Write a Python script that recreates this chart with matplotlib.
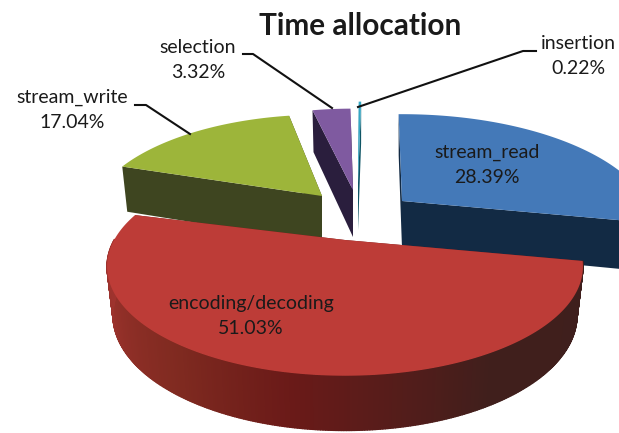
import numpy as np
import matplotlib
matplotlib.use("Agg")
import matplotlib.pyplot as plt
from matplotlib.patches import Polygon
from matplotlib.collections import PolyCollection
from matplotlib.colors import to_rgb

labels = ["stream_read", "encoding/decoding", "stream_write", "selection", "insertion"]
shares = [28.39, 51.03, 17.04, 3.32, 0.22]
top_colors = ["#4479b8", "#bd3c37", "#9db53a", "#7f5aa0", "#35a8c5"]
side_colors = ["#122a44", "#6a1a18", "#3e4520", "#2a1e3d", "#0f5565"]

# per-slice explosion (pixels from the pie centre) and view tweaks
offset_x = [50, -7, -30, 1, 6]
offset_y = [-14, 25, -19, -25, -32]
radius = [1.03, 0.97, 0.95, 0.95, 0.95]
rotate = [0, 0, 3.4, 1, 2]

START = -1.0
CX, CY = 352, 215
A, B, K = 238, 106, 0.25
DEPTH = 47
BOTTOM_SHRINK = 0.975

rim_theta = [100, 150, 175, 190, 215, 250, 290]
rim_cols = ["#3f1f1d", "#401f1c", "#5a1c1a", "#6a1a18", "#7f2a20", "#9a322c", "#a83532"]

plt.rcParams["font.family"] = ["Lato", "DejaVu Sans"]
fig = plt.figure(figsize=(6.19, 4.33), dpi=100, facecolor="white")
ax = fig.add_axes([0, 0, 1, 1])
ax.set_xlim(0, 619); ax.set_ylim(433, 0); ax.axis("off")


def project(theta, tip, r):
    t = np.radians(theta)
    d = 1 + K * r * np.cos(t)
    x = tip[0] + A * r * np.sin(t) / d
    y = tip[1] - B * r * np.cos(t) / d
    xb = tip[0] + (x - tip[0]) * BOTTOM_SHRINK
    yb = y + DEPTH * (1 / d) ** 0.55
    return x, y, xb, yb


def rim_color(i, theta):
    if i != 1:
        return side_colors[i]
    rgb = np.array([to_rgb(c) for c in rim_cols])
    return tuple(np.interp(theta, rim_theta, rgb[:, k]) for k in range(3))


slices = []
angle = START
for i, s in enumerate(shares):
    sweep = s * 3.6
    tip = (CX + offset_x[i], CY + offset_y[i])
    slices.append((angle + rotate[i], angle + rotate[i] + sweep, tip))
    angle += sweep

draw_order = [2, 3, 4, 0, 1]
for n, i in enumerate(draw_order):
    a0, a1, tip = slices[i]
    z = 2 + n * 4
    thetas = np.linspace(a0, a1, max(int(a1 - a0) * 2, 4))
    x, y, xb, yb = project(thetas, tip, radius[i])
    tipb = (tip[0], tip[1] + DEPTH)
    for k, th in enumerate((a1, a0)):
        px, py, pxb, pyb = project(th, tip, radius[i])
        ax.add_patch(Polygon([tip, (px, py), (pxb, pyb), tipb], fc=side_colors[i], ec="none", zorder=z + k))
    quads, cols = [], []
    for j in range(len(thetas) - 1):
        if np.cos(np.radians(thetas[j])) > 0:  # back of the pie: rim faces away from the viewer
            continue
        quads.append([(x[j], y[j]), (x[j + 1], y[j + 1]), (xb[j + 1], yb[j + 1]), (xb[j], yb[j])])
        cols.append(rim_color(i, thetas[j]))
    if quads:
        ax.add_collection(PolyCollection(quads, facecolors=cols, edgecolors=cols, linewidths=1.0, zorder=z + 2))
    ax.add_patch(Polygon(np.vstack([[tip], np.c_[x, y]]), fc=top_colors[i], ec="none", zorder=z + 3))

txt = "#1a1a1a"
ax.text(360, 26, "Time allocation", ha="center", va="center", fontsize=21.4, fontweight="bold", color=txt, zorder=50)
label_pos = [(487, 165), (251, 316), (72, 110), (198, 60), (578, 56)]
for i, (lx, ly) in enumerate(label_pos):
    ax.text(lx, ly, f"{labels[i]}\n{shares[i]:.2f}%", ha="center", va="center", fontsize=14,
            color=txt, linespacing=1.55, zorder=50)

ax.plot([135, 146, 190], [105, 105, 134], color="#111111", lw=1.5, zorder=40)
ax.plot([243, 253, 332], [54, 54, 108], color="#111111", lw=1.5, zorder=40)
ax.plot([536, 523, 358], [51, 51, 107], color="#111111", lw=1.5, zorder=40)

fig.savefig("out.png", dpi=100)
